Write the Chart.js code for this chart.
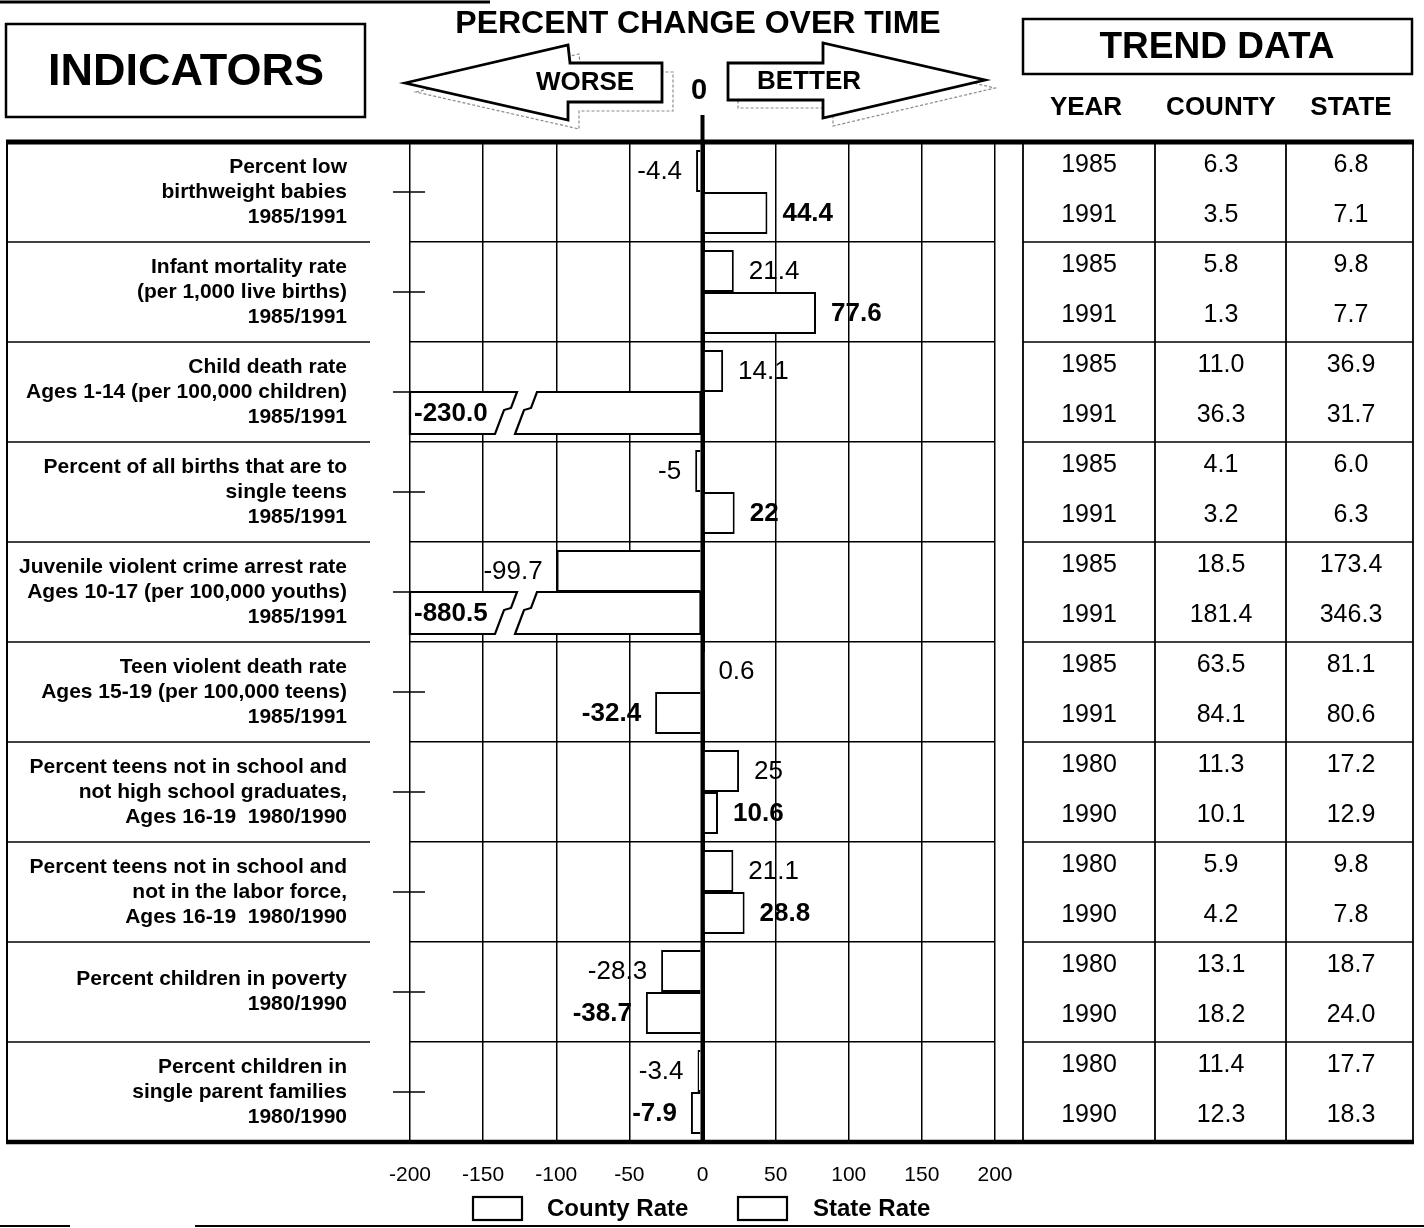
<!DOCTYPE html>
<html>
<head>
<meta charset="utf-8">
<title>Percent change over time</title>
<script src="https://cdn.jsdelivr.net/npm/chart.js@4.4.1/dist/chart.umd.min.js"></script>
<style>
  html, body { margin: 0; padding: 0; background: #fff; }
  canvas { display: block; }
</style>
</head>
<body>
<canvas id="trend" width="1424" height="1228"></canvas>
<script>
const indicators = [
  ["Percent low", "birthweight babies", "1985/1991"],
  ["Infant mortality rate", "(per 1,000 live births)", "1985/1991"],
  ["Child death rate", "Ages 1-14 (per 100,000 children)", "1985/1991"],
  ["Percent of all births that are to", "single teens", "1985/1991"],
  ["Juvenile violent crime arrest rate", "Ages 10-17 (per 100,000 youths)", "1985/1991"],
  ["Teen violent death rate", "Ages 15-19 (per 100,000 teens)", "1985/1991"],
  ["Percent teens not in school and", "not high school graduates,", "Ages 16-19  1980/1990"],
  ["Percent teens not in school and", "not in the labor force,", "Ages 16-19  1980/1990"],
  ["Percent children in poverty", "1980/1990"],
  ["Percent children in", "single parent families", "1980/1990"]
];

// percent change, positive = better
const stateChange = [-4.4, 21.4, 14.1, -5, -99.7, 0.6, 25, 21.1, -28.3, -3.4];
const countyChange = [44.4, 77.6, -230.0, 22, -880.5, -32.4, 10.6, 28.8, -38.7, -7.9];

const axisTicks = [-200, -150, -100, -50, 0, 50, 100, 150, 200];

const trendYears = [
  ["1985", "1991"], ["1985", "1991"], ["1985", "1991"], ["1985", "1991"], ["1985", "1991"],
  ["1985", "1991"], ["1980", "1990"], ["1980", "1990"], ["1980", "1990"], ["1980", "1990"]
];
const countyTrend = [
  ["6.3", "3.5"], ["5.8", "1.3"], ["11.0", "36.3"], ["4.1", "3.2"], ["18.5", "181.4"],
  ["63.5", "84.1"], ["11.3", "10.1"], ["5.9", "4.2"], ["13.1", "18.2"], ["11.4", "12.3"]
];
const stateTrend = [
  ["6.8", "7.1"], ["9.8", "7.7"], ["36.9", "31.7"], ["6.0", "6.3"], ["173.4", "346.3"],
  ["81.1", "80.6"], ["17.2", "12.9"], ["9.8", "7.8"], ["18.7", "24.0"], ["17.7", "18.3"]
];

const FONT = '"Liberation Sans", Arial, Helvetica, sans-serif';
const font = (size, bold) => `${bold ? "bold " : ""}${size}px ${FONT}`;

function line(ctx, x1, y1, x2, y2, w) {
  ctx.lineWidth = w;
  ctx.beginPath();
  ctx.moveTo(x1, y1);
  ctx.lineTo(x2, y2);
  ctx.stroke();
}

function text(ctx, str, x, y, size, bold, align) {
  ctx.font = font(size, bold);
  ctx.textAlign = align || "center";
  ctx.textBaseline = "middle";
  ctx.fillText(str, x, y);
}

function poly(ctx, pts) {
  ctx.beginPath();
  pts.forEach(([x, y], i) => i ? ctx.lineTo(x, y) : ctx.moveTo(x, y));
  ctx.closePath();
}

function arrow(ctx, pts, dx, dy) {
  // faint offset shadow first, then the white arrow on top
  ctx.save();
  ctx.strokeStyle = "#8a8a8a";
  ctx.lineWidth = 1.2;
  ctx.setLineDash([3, 2]);
  poly(ctx, pts.map(([x, y]) => [x + dx, y + dy]));
  ctx.stroke();
  ctx.restore();
  poly(ctx, pts);
  ctx.fillStyle = "#fff";
  ctx.fill();
  ctx.lineWidth = 2.8;
  ctx.stroke();
  ctx.fillStyle = "#000";
}

const pagePlugin = {
  id: "page",
  beforeDraw(chart) {
    const ctx = chart.ctx;
    ctx.save();
    ctx.fillStyle = "#fff";
    ctx.fillRect(0, 0, chart.width, chart.height);
    ctx.restore();
  },
  afterDatasetsDraw(chart) {
    const { ctx, chartArea, scales: { x } } = chart;
    const L = chartArea.left;
    ctx.save();
    ctx.strokeStyle = "#000";
    ctx.fillStyle = "#000";

    chart.data.datasets.forEach((ds, di) => {
      const meta = chart.getDatasetMeta(di);
      const bold = ds.label === "County Rate";
      meta.data.forEach((bar, i) => {
        const v = ds.data[i];
        const p = bar.getProps(["x", "y", "base", "height"], true);
        const top = p.y - p.height / 2, bot = p.y + p.height / 2, h = p.height;
        if (v < x.min) {
          // off-scale bar: cut it with a break and print the value inside
          ctx.fillStyle = "#fff";
          ctx.fillRect(L - 4, top, p.base - L + 4, h);
          const f = t => top + t * h;
          const left = [[L, top], [L + 107, top], [L + 101, f(0.38)], [L + 94, f(0.43)], [L + 85, bot], [L, bot]];
          const right = [[L + 127, top], [p.base, top], [p.base, bot], [L + 105, bot], [L + 114, f(0.43)], [L + 121, f(0.38)]];
          [left, right].forEach(pts => {
            poly(ctx, pts);
            ctx.fillStyle = "#fff";
            ctx.fill();
            ctx.lineWidth = 2.2;
            ctx.stroke();
          });
          ctx.fillStyle = "#000";
          text(ctx, v.toFixed(1), L + 4, p.y + 1, 26, true, "left");
          return;
        }
        ctx.fillStyle = "#000";
        if (v >= 0) text(ctx, String(v), p.x + 15, p.y + 1, 26, bold, "left");
        else text(ctx, String(v), p.x - 14, p.y + 1, 26, bold, "right");
      });
    });

    // zero line runs up into the arrow header
    ctx.strokeStyle = "#000";
    const zx = x.getPixelForValue(0);
    line(ctx, zx, 115, zx, chartArea.bottom, 4);
    ctx.restore();
  },
  afterDraw(chart) {
    const { ctx, chartArea, scales: { y } } = chart;
    const n = chart.data.labels.length;
    const rowH = y.getPixelForValue(1) - y.getPixelForValue(0);
    const bounds = [];
    for (let i = 0; i <= n; i++) bounds.push(y.getPixelForValue(i) - rowH / 2);

    ctx.save();
    ctx.strokeStyle = "#000";
    ctx.fillStyle = "#000";

    // scan edges of the page
    line(ctx, 0, 2, 490, 2, 3);
    line(ctx, 0, 1226, 70, 1226, 2);
    line(ctx, 195, 1226, 1424, 1226, 2);

    // header
    ctx.lineWidth = 2.5;
    ctx.strokeRect(6, 24, 359, 93);
    text(ctx, "INDICATORS", 186, 73, 45, true);
    text(ctx, "PERCENT CHANGE OVER TIME", 698, 24, 32, true);

    arrow(ctx, [[405, 83], [568, 45], [570, 63], [662, 63], [662, 102], [568, 102], [568, 120]], 11, 9);
    arrow(ctx, [[728, 63], [823, 63], [823, 43], [985, 80], [823, 118], [823, 100], [728, 100]], 10, 8);
    text(ctx, "WORSE", 585, 83, 26, true);
    text(ctx, "BETTER", 809, 82, 26, true);
    text(ctx, "0", 699, 91, 29, true);

    ctx.lineWidth = 2.5;
    ctx.strokeRect(1023, 19, 389, 55);
    text(ctx, "TREND DATA", 1217, 48, 37, true);
    text(ctx, "YEAR", 1086, 108, 26, true);
    text(ctx, "COUNTY", 1221, 108, 26, true);
    text(ctx, "STATE", 1351, 108, 26, true);

    // indicator panel
    line(ctx, 7, bounds[0], 7, bounds[n], 2);
    for (let i = 1; i < n; i++) line(ctx, 7, bounds[i], 370, bounds[i], 1.5);
    for (let i = 0; i < n; i++) {
      const cy = y.getPixelForValue(i);
      line(ctx, 393, cy, 425, cy, 1.5);
    }

    // trend table
    const cols = [1023, 1155, 1286, 1413];
    const mids = [1089, 1221, 1351];
    cols.forEach(cx => line(ctx, cx, bounds[0], cx, bounds[n], 1.8));
    for (let i = 1; i < n; i++) line(ctx, cols[0], bounds[i], cols[3], bounds[i], 1.5);
    for (let i = 0; i < n; i++) {
      const cy = y.getPixelForValue(i);
      [trendYears[i], countyTrend[i], stateTrend[i]].forEach((pair, c) => {
        text(ctx, pair[0], mids[c], cy - 27, 25, false);
        text(ctx, pair[1], mids[c], cy + 23, 25, false);
      });
    }

    // heavy rules top and bottom
    line(ctx, 6, chartArea.top, 1414, chartArea.top, 5);
    line(ctx, 6, chartArea.bottom, 1414, chartArea.bottom, 4.5);

    // legend
    ctx.lineWidth = 2.2;
    ctx.strokeRect(473, 1197, 49, 23);
    text(ctx, "County Rate", 547, 1209, 24, true, "left");
    ctx.strokeRect(738, 1197, 49, 23);
    text(ctx, "State Rate", 813, 1209, 24, true, "left");
    ctx.restore();
  }
};

const barStyle = {
  backgroundColor: "#fff",
  borderColor: "#000",
  borderWidth: 2,
  categoryPercentage: 0.84,
  barPercentage: 1,
  clip: 3
};

new Chart(document.getElementById("trend"), {
  type: "bar",
  data: {
    labels: indicators,
    datasets: [
      { label: "State Rate", data: stateChange, ...barStyle },
      { label: "County Rate", data: countyChange, ...barStyle }
    ]
  },
  options: {
    indexAxis: "y",
    responsive: false,
    animation: false,
    devicePixelRatio: 1,
    layout: { padding: { left: 8, right: 429, top: 142, bottom: 36 } },
    plugins: { legend: { display: false }, tooltip: { enabled: false } },
    scales: {
      x: {
        min: axisTicks[0],
        max: axisTicks[axisTicks.length - 1],
        ticks: { stepSize: axisTicks[1] - axisTicks[0], autoSkip: false, padding: 21, color: "#000", font: { family: FONT, size: 21 } },
        grid: { color: "#000", lineWidth: c => (c.tick && c.tick.value === 0 ? 4 : 1.5), drawTicks: false },
        border: { display: false },
        afterFit: s => { s.height = 50; s.paddingLeft = 0; s.paddingRight = 0; }
      },
      y: {
        ticks: { autoSkip: false, padding: 63, color: "#000", font: { family: FONT, size: 21, weight: "bold", lineHeight: 1.2 } },
        grid: { color: "#000", lineWidth: 1.5, drawTicks: false, offset: true },
        border: { display: false },
        afterFit: s => { s.width = 402; s.paddingTop = 0; s.paddingBottom = 0; }
      }
    }
  },
  plugins: [pagePlugin]
});
</script>
</body>
</html>
